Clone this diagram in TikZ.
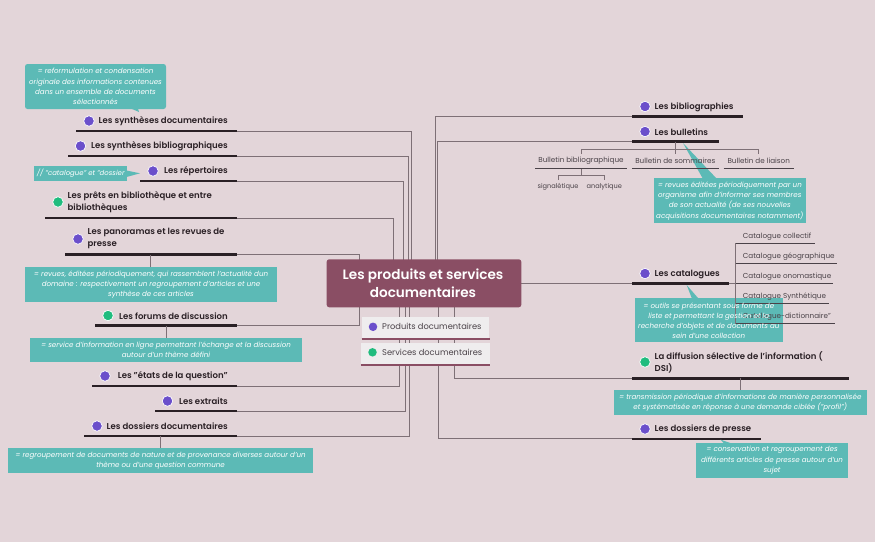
\documentclass[tikz,border=0pt]{standalone}
\usepackage{fontspec}
\setmainfont{Poppins}[BoldFont={Poppins SemiBold}]
\definecolor{bgc}{HTML}{E3D5D9}
\definecolor{tealc}{HTML}{5CBAB6}
\definecolor{rootc}{HTML}{8A4E64}
\definecolor{inkc}{HTML}{2A2025}
\definecolor{linec}{HTML}{7E7076}
\definecolor{purp}{HTML}{6B4FCB}
\definecolor{greenc}{HTML}{20BC7E}
\definecolor{subc}{HTML}{4A4248}
\definecolor{legc}{HTML}{EFEDEE}
\tikzset{
  x=1pt,y=-1pt,
  conn/.style={draw=linec,line width=1pt},
  bar/.style={draw=inkc,line width=2.3pt},
  thin bar/.style={draw=subc,line width=1.2pt},
  lab/.style={font=\fontsize{8.55}{12}\selectfont\bfseries,text=inkc,inner sep=0pt,align=left,yshift=-1pt},
  sublab/.style={font=\fontsize{7.2}{11}\selectfont,text=subc,inner sep=0pt},
  note/.style={fill=tealc,text=white,font=\fontsize{7.1}{10.3}\selectfont\itshape,align=center,inner sep=0pt},
  notetext/.style={text=white,font=\fontsize{7.1}{10.3}\selectfont\itshape,align=center,inner sep=0pt},
  dotp/.style={circle,fill=purp,draw=white,line width=.7pt,minimum size=10.5pt,inner sep=0pt},
  dotg/.style={circle,fill=greenc,draw=white,line width=.7pt,minimum size=10.5pt,inner sep=0pt},
}
\begin{document}
\begin{tikzpicture}
\useasboundingbox[fill=bgc] (0,0) rectangle (875,542);
% anchor coordinates on underlines
\coordinate (c1) at (237,131);\coordinate (c2) at (237,156);\coordinate (c3) at (237,181);
\coordinate (c4) at (237,218);\coordinate (c5) at (237,254.5);\coordinate (c6) at (237,325.5);
\coordinate (c7) at (237,386);\coordinate (c8) at (237,411.2);\coordinate (c9) at (237,436);
\coordinate (r1) at (632,116.5);\coordinate (r2) at (632,141.5);\coordinate (r3) at (632,283.5);
\coordinate (r4) at (632,378.4);\coordinate (r5) at (632,438.8);
% connectors
\draw[conn] (c1) -| (411.3,262);
\draw[conn] (c2) -| (408.5,262);
\draw[conn] (c3) -| (403.7,262);
\draw[conn] (c4) -| (393.3,262);
\draw[conn] (c5) -| (359.3,262);
\draw[conn] (c6) -| (359.3,306);
\draw[conn] (c7) -| (399,306);
\draw[conn] (c8) -| (405.3,306);
\draw[conn] (c9) -| (409.3,306);
\draw[conn] (r1) -| (435.5,262);
\draw[conn] (r2) -| (437.8,262);
\draw[conn] (424,283.5) -- (r3);
\draw[conn] (r4) -| (454.3,306);
\draw[conn] (r5) -| (438.3,306);
% root
\node[fill=rootc,rounded corners=2.5pt,minimum width=194.6pt,minimum height=48pt,inner sep=0pt] (root) at (424,283.3) {};
\node[text=white,align=center,inner sep=0pt,font=\fontsize{13.6}{18}\selectfont\bfseries] (roott) at (423,283.3) {Les produits et services\\documentaires};
% legend
\node[fill=legc,minimum width=127.6pt,minimum height=22pt,inner sep=0pt] (lg1) at (425.5,327.8) {};
\draw[draw=rootc,line width=2pt] (lg1.south west) -- (lg1.south east);
\node[fill=legc,minimum width=129pt,minimum height=22pt,inner sep=0pt] (lg2) at (425.5,353.8) {};
\draw[draw=rootc,line width=2pt] (lg2.south west) -- (lg2.south east);
\node[dotp,draw=none,minimum size=8.5pt] (lgd1) at (373,326.8) {};
\node[dotg,draw=none,minimum size=8.5pt] (lgd2) at (372.5,352.3) {};
\node[sublab,anchor=west,font=\fontsize{8.3}{11}\selectfont] (lgt1) at (382,326.8) {Produits documentaires};
\node[sublab,anchor=west,font=\fontsize{8.3}{11}\selectfont] (lgt2) at (382,352.3) {Services documentaires};
% left topics
\draw[bar] (76,131) -- (c1); \node[lab,anchor=east] (t1) at (228,120.5) {Les synthèses documentaires}; \node[dotp] (d1) at (89,121) {};
\draw[bar] (68,156) -- (c2); \node[lab,anchor=east] (t2) at (228,145.5) {Les synthèses bibliographiques}; \node[dotp] (d2) at (80.5,146) {};
\draw[bar] (140,181) -- (c3); \node[lab,anchor=east] (t3) at (228,170.5) {Les répertoires}; \node[dotp] (d3) at (153,171) {};
\draw[bar] (45,218) -- (c4); \node[lab,anchor=north west] (t4) at (67.5,190) {Les prêts en bibliothèque et entre\\bibliothèques}; \node[dotg] (d4) at (58,202) {};
\draw[bar] (65,254.5) -- (c5); \node[lab,anchor=north west] (t5) at (87.5,226.5) {Les panoramas et les revues de\\presse}; \node[dotp] (d5) at (78,239) {};
\draw[bar] (95,325.5) -- (c6); \node[lab,anchor=east] (t6) at (228,315) {Les forums de discussion}; \node[dotg] (d6) at (108,315.5) {};
\draw[bar] (92,386) -- (c7); \node[lab,anchor=east] (t7) at (228,375.5) {Les "états de la question"}; \node[dotp] (d7) at (105,376) {};
\draw[bar] (155,411.2) -- (c8); \node[lab,anchor=east] (t8) at (228,400.5) {Les extraits}; \node[dotp] (d8) at (167.5,401) {};
\draw[bar] (84,436) -- (c9); \node[lab,anchor=east] (t9) at (228,425.5) {Les dossiers documentaires}; \node[dotp] (d9) at (97,426) {};
% left notes
\node[note,rounded corners=2.5pt,minimum width=141pt,minimum height=45pt] (n1) at (95.5,86.5) {= reformulation et condensation\\originale des informations contenues\\dans un ensemble de documents\\sélectionnés};
\fill[tealc] (131,108.5) -- (139,112) -- (138,108.5) -- cycle;
\node[note,minimum width=93pt,minimum height=15pt,font=\fontsize{6.9}{10}\selectfont\itshape,anchor=west] (n3) at (34,173.5) {// "catalogue" et "dossier};
\fill[tealc] (126.5,170.5) -- (140,173.3) -- (126.5,177) -- cycle;
\draw[conn] (150.5,254.5) -- (150.5,267);
\node[note,minimum width=252pt,minimum height=35pt] (n5) at (151,284.5) {= revues, éditées périodiquement, qui rassemblent l'actualité dun\\domaine : respectivement un regroupement d'articles et une\\synthèse de ces articles};
\draw[conn] (166,325.5) -- (166,338);
\node[note,minimum width=272pt,minimum height=24.5pt] (n6) at (166,349.8) {= service d'information en ligne permettant l'échange et la discussion\\autour d'un thème défini};
\draw[conn] (160.5,436) -- (160.5,448);
\node[note,minimum width=305pt,minimum height=24.5pt] (n9) at (160.5,460.5) {= regroupement de documents de nature et de provenance diverses autour d'un\\thème ou d'une question commune};
% right topics
\draw[bar] (632,116.5) -- (743,116.5); \node[lab,anchor=west] (u1) at (654.5,106.5) {Les bibliographies}; \node[dotp] (e1) at (645,106.5) {};
\draw[bar] (632,141.5) -- (719,141.5); \node[lab,anchor=west] (u2) at (654.5,131.5) {Les bulletins}; \node[dotp] (e2) at (645,131.5) {};
\draw[bar] (632,283.5) -- (729,283.5); \node[lab,anchor=west] (u3) at (654.5,273.5) {Les catalogues}; \node[dotp] (e3) at (645,273.5) {};
\draw[bar] (632,378.4) -- (849,378.4); \node[lab,anchor=north west] (u4) at (654.5,350) {La diffusion sélective de l'information (\\DSI)}; \node[dotg] (e4) at (645,362) {};
\draw[bar] (632,438.8) -- (761,438.8); \node[lab,anchor=west] (u5) at (654.5,428.5) {Les dossiers de presse}; \node[dotp] (e5) at (645,429) {};
% bulletin subtree (the note's wedge lies beneath it)
\fill[tealc] (683,143) -- (703,179) -- (717,179) -- cycle;
\draw[conn] (675.3,141.5) -- (675.3,154);
\draw[conn] (581.3,154) -- (581.3,149.4) -- (758.7,149.4) -- (758.7,154);
\node[sublab,anchor=center] (b1) at (581,161) {Bulletin bibliographique};
\node[sublab,anchor=center] (b2) at (675.3,161) {Bulletin de sommaires};
\node[sublab,anchor=center] (b3) at (758.7,161) {Bulletin de liaison};
\draw[thin bar] (535,168.5) -- (627,168.5);
\draw[thin bar] (632,168.5) -- (718.7,168.5);
\draw[thin bar] (723.5,168.5) -- (794,168.5);
\draw[conn] (581.3,168.5) -- (581.3,175.5);
\draw[conn] (558.3,180) -- (558.3,175.5) -- (604.3,175.5) -- (604.3,180);
\node[sublab,anchor=center,font=\fontsize{6.6}{10}\selectfont] (b4) at (558,186.7) {signalétique};
\node[sublab,anchor=center,font=\fontsize{6.6}{10}\selectfont] (b5) at (604.3,186.7) {analytique};
\node[note,minimum width=151.7pt,minimum height=45pt] (n12) at (729.8,200.8) {= revues éditées périodiquement par un\\organisme afin d'informer ses membres\\de son actualité (de ses nouvelles\\acquisitions documentaires notamment)};
% catalogue note box, then the subtree over it, then the note's text
\fill[tealc] (686.7,285) -- (698,298) -- (691.7,298) -- cycle;
\node[fill=tealc,minimum width=148.3pt,minimum height=44.3pt,inner sep=0pt] (n13) at (708.8,319.9) {};
\draw[conn] (729,283.5) -- (735.5,283.5);
\draw[conn] (735.5,243) -- (735.5,324);
\foreach \yy/\xe/\nm/\tx in {243.3/815/k1/Catalogue collectif,263.5/836.7/k2/Catalogue géographique,283.5/833/k3/Catalogue onomastique,303.5/829/k4/Catalogue Synthétique,323.5/835/k5/Catalogue-dictionnaire"}{
  \draw[thin bar] (735.5,\yy) -- (\xe,\yy);
  \node[sublab,anchor=base west] (\nm) at (742.7,\yy-5.2) {\tx};
}
\node[notetext] (n13t) at ([yshift=-.8pt]n13.center) {= outils se présentant sous forme de\\liste et permettant la gestion et la\\recherche d'objets et de documents au\\sein d'une collection};
% DSI note
\draw[conn] (740.5,378.4) -- (740.5,391);
\node[note,minimum width=252.7pt,minimum height=24.7pt] (n14) at (740.3,402.7) {= transmission périodique d'informations de manière personnalisée\\et systématisée en réponse à une demande ciblée ("profil")};
% presse note
\fill[tealc] (720.7,439.7) -- (731.7,443.5) -- (724,443.5) -- cycle;
\node[note,minimum width=151.4pt,minimum height=34.7pt] (n15) at (772,460.3) {= conservation et regroupement des\\différents articles de presse autour d'un\\sujet};
\end{tikzpicture}
\end{document}
